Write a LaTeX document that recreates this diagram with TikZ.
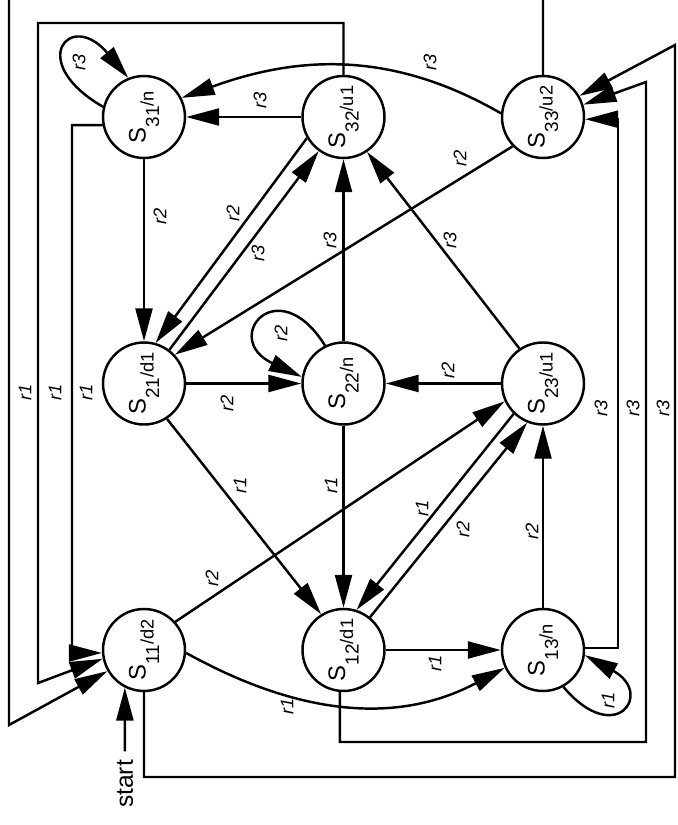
\documentclass[tikz,border=0pt]{standalone}
\usepackage{fontspec}
\setmainfont{Liberation Sans}
\usetikzlibrary{arrows.meta}

\newcommand\stname[2]{{\fontsize{6.8}{7}\selectfont S}\raisebox{-1.35mm}{\fontsize{5.4}{6}\selectfont #1}\raisebox{-0.8mm}{\fontsize{5.2}{6}\selectfont /#2}}

\tikzset{
  state/.style={circle, draw, line width=0.7pt, minimum size=8.2mm, inner sep=0pt},
  edge/.style={->, line width=0.7pt},
  lbl/.style={rotate=90, inner sep=0pt, font=\fontsize{5.2}{6}\selectfont\itshape},
  >={Triangle[length=3.3mm,width=1.7mm]}
}

\begin{document}
\begin{tikzpicture}
    \def \dx {1.995}
    \def \dy {2.665} % row spacing
    \useasboundingbox (0,0) rectangle (6.77,8.25);
    \foreach \row/\col/\act in {1/1/d2,1/2/d1,1/3/n,2/1/d1,2/2/n,2/3/u1,3/1/n,3/2/u1,3/3/u2}
    {
      \node[state] (s\row\col) at ({1.44+(\col-1)*\dx},{1.75+(\row-1)*\dy})
        {\rotatebox{90}{\stname{\row\col}{\act}}};
    }
    \node[rotate=90, inner sep=0.8mm, font=\fontsize{7}{8}\selectfont] (start) at (1.25,0.41) {start};
    \draw[edge] (start) -- (s11.243);

    % moves inside the grid
    \draw[edge] (s32) -- (s31) node[lbl] at (2.60,7.25) {r3};
    \draw[edge] (s31) -- (s21) node[lbl] at (1.60,6.09) {r2};
    \draw[edge] (s32.210) -- (s21.74) node[lbl] at (2.33,6.12) {r2};
    \draw[edge] (s21.53) -- (s32.234) node[lbl] at (2.58,5.72) {r3};
    \draw[edge] (s33.224) -- (s21.43) node[lbl] at (4.60,6.67) {r2};
    \draw[edge] (s21) -- (s22) node[lbl] at (2.27,4.22) {r2};
    \draw[edge] (s22) -- (s32) node[lbl] at (3.30,5.85) {r3};
    \draw[edge] (s23.124) -- (s32.304) node[lbl] at (4.50,5.85) {r3};
    \draw[edge] (s23) -- (s22) node[lbl] at (4.48,4.55) {r2};
    \draw[edge] (s21.-57) -- (s12.122) node[lbl] at (2.40,3.40) {r1};
    \draw[edge] (s22) -- (s12) node[lbl] at (3.31,3.40) {r1};
    \draw[edge] (s11.42) -- (s23.205) node[lbl] at (2.12,2.47) {r2};
    \draw[edge] (s23.226) -- (s12.72) node[lbl] at (4.22,3.17) {r1};
    \draw[edge] (s12.51) -- (s23.248) node[lbl] at (4.63,2.96) {r2};
    \draw[edge] (s12) -- (s13) node[lbl] at (4.35,1.62) {r1};
    \draw[edge] (s13) -- (s23) node[lbl] at (5.32,2.94) {r2};
    \draw[edge] (s33.175) to[out=150,in=20] (s31.27) node[lbl] at (4.30,7.63) {r3};
    \draw[edge] (s11.-4) to[out=-29,in=208] (s13.205) node[lbl] at (2.87,1.19) {r1};

    % self loops
    \draw[edge] (s31.166) .. controls +(150:0.9) and +(130:0.9) .. (s31.112) node[lbl] at (0.79,7.63) {r3};
    \draw[edge] (s22.116) .. controls +(122:0.9) and +(155:0.9) .. (s22.171) node[lbl] at (2.81,4.92) {r2};
    \draw[edge] (s13.-61) .. controls +(-50:0.8) and +(-29:0.8) .. (s13.-7) node[lbl] at (6.08,1.25) {r1};

    % r1 back to s11 along the left
    \draw[edge] (s31.191) -| (0.72,1.72) -- (s11.184) node[lbl] at (0.86,4.33) {r1};
    \draw[edge] (s32.north) |- (0.38,8.02) -- (0.38,1.42) -- (s11.192) node[lbl] at (0.55,4.33) {r1};
    \draw[edge] (s33.north) |- (0.09,8.40) -- (0.09,1.00) -- (s11.210) node[lbl] at (0.25,4.33) {r1};

    % r3 up to s33 along the right
    \draw[edge] (s13.3) -- ++(0.33,0) |- (s33.-3) node[lbl] at (6.01,4.17) {r3};
    \draw[edge] (s12.265) |- (6.46,0.83) -- (6.46,7.43) -- (s33.17) node[lbl] at (6.33,4.17) {r3};
    \draw[edge] (s11.south) |- (6.75,0.48) -- (6.75,7.80) -- (s33.30) node[lbl] at (6.63,4.17) {r3};
\end{tikzpicture}
\end{document}
